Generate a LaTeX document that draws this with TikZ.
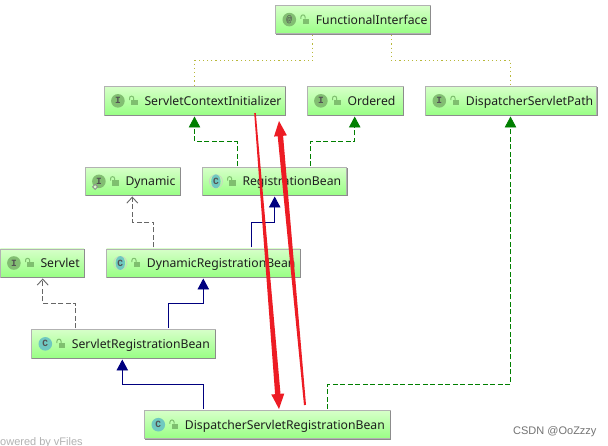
\documentclass[tikz,border=0pt]{standalone}
\usepackage{fontspec}
\setmainfont{Noto Sans}
\newfontfamily\wmfont{Liberation Sans}
\newfontfamily\icofont{Liberation Mono}
\usetikzlibrary{arrows.meta,calc}
\definecolor{dotc}{HTML}{B8B83A}
\definecolor{implc}{HTML}{007F00}
\definecolor{extc}{HTML}{00007F}
\definecolor{depc}{HTML}{666666}
\definecolor{redc}{HTML}{ED1C24}
\definecolor{icoI}{HTML}{82BE72}
\definecolor{icoC}{HTML}{6FC8C0}
\definecolor{haloC}{HTML}{C8D8C0}
\definecolor{lockc}{HTML}{7FBF6F}
\definecolor{boxtop}{HTML}{D6FFC8}
\definecolor{boxbot}{HTML}{99FF85}
\tikzset{
  box/.style={draw=black!30,line width=0.9pt,top color=boxtop,bottom color=boxbot,middle color=boxtop!50!boxbot,inner sep=0pt,outer ysep=1.5pt},
  lbl/.style={inner sep=0pt,anchor=base west,font=\fontsize{12.2}{14}\selectfont,text=black!88},
  icotxt/.style={inner sep=0pt,font=\icofont\bfseries\fontsize{9.5}{10}\selectfont,text=black!68},
  dotline/.style={draw=dotc,line width=1pt,dash pattern=on 1.2pt off 3pt},
  impl/.style={draw=implc,line width=0.9pt,dash pattern=on 5pt off 2.5pt,-{Triangle[width=11.5pt,length=11pt,fill=implc]}},
  ext/.style={draw=extc,line width=0.9pt,-{Triangle[width=11.5pt,length=11pt,fill=extc]}},
  dep/.style={draw=depc,line width=0.9pt,dash pattern=on 5pt off 2.5pt,-{Straight Barb[width=11pt,length=6pt,line width=0.9pt]}},
}
% name, x0, y0, x1, y1, icon code, letter, label
\newcommand{\icoplainI}[2]{\fill[icoI] ({#1},{#2}) circle (6.8);}
\newcommand{\icoplainC}[2]{\fill[icoC] ({#1},{#2}) circle (6.8);}
\newcommand{\icoabsC}[2]{\draw[haloC,line width=0.8pt] ({#1},{#2}) circle (6.6);\fill[icoC] ({#1},{#2}) ellipse (4.7 and 6.9);}
\newcommand{\icodyn}[2]{\fill[icoI] ({#1},{#2}) circle (6.8);\draw[black!45,line width=0.9pt,fill=boxtop] ({#1-6.3},{#2+5.6}) -- ({#1-3.8},{#2+3.1}) -- ({#1-1.3},{#2+5.6}) -- ({#1-3.8},{#2+8.1}) -- cycle;}
\newcommand{\umlbox}[8]{%
  \node[box,minimum width=#4pt-#2pt,minimum height=#5pt-#3pt] (#1) at ({(#2+#4)/2},{(#3+#5)/2}) {};
  \draw[black!45,line width=0.9pt] (#2+0.5,#5+0.6) -- (#4+0.6,#5+0.6) -- (#4+0.6,#3+0.5);
  #6{#2+13.6}{(#3+#5)/2}
  \node[icotxt] (#1-i) at (#2+13.6,{(#3+#5)/2}) {#7};
  \fill[lockc] (#2+26.8,{(#3+#5)/2-1}) rectangle (#2+33.2,{(#3+#5)/2+4.2});
  \draw[lockc,line width=1pt] (#2+25.2,{(#3+#5)/2-0.8}) -- (#2+25.2,{(#3+#5)/2-2.6}) .. controls (#2+25.2,{(#3+#5)/2-5.4}) and (#2+29.4,{(#3+#5)/2-5.4}) .. (#2+29.4,{(#3+#5)/2-2.6}) -- (#2+29.4,{(#3+#5)/2-1});
  \node[lbl] (#1-t) at (#2+40,{(#3+#5)/2+4.5}) {#8};
}
\begin{document}
\begin{tikzpicture}[x=1pt,y=-1pt]
\useasboundingbox (0,0) rectangle (608,446);
\fill[white] (0,0) rectangle (608,446);
\umlbox{func}{275.7}{5.7}{430}{33.5}{\icoplainI}{@}{FunctionalInterface}
\umlbox{sci}{104.3}{86.7}{285}{115}{\icoplainI}{I}{ServletContextInitializer}
\umlbox{ord}{307.3}{86.7}{403}{115}{\icoplainI}{I}{Ordered}
\umlbox{dsp}{425.7}{86.7}{596.7}{115}{\icoplainI}{I}{DispatcherServletPath}
\umlbox{dyn}{85.3}{167.7}{180}{195}{\icodyn}{I}{Dynamic}
\umlbox{reg}{202.3}{167.7}{346.7}{195}{\icoabsC}{C}{RegistrationBean}
\umlbox{srv}{0.3}{249}{84}{277}{\icoplainI}{I}{Servlet}
\umlbox{drb}{106.7}{249}{300}{277}{\icoabsC}{C}{DynamicRegistrationBean}
\umlbox{srb}{31.7}{329.7}{215}{358}{\icoplainC}{C}{ServletRegistrationBean}
\umlbox{dsrb}{144.7}{410.7}{390}{438.7}{\icoplainC}{C}{DispatcherServletRegistrationBean}

\coordinate (b1) at (194.5,60.5);
\coordinate (b2) at (510.5,60.5);
\coordinate (b3) at (194.5,141.5);
\coordinate (b4) at (354.7,141.5);
\coordinate (b5) at (510.5,384.3);
\coordinate (b6) at (132.3,222.3);
\coordinate (b7) at (274.7,222.3);
\coordinate (b8) at (42.7,303.3);
\coordinate (b9) at (203.3,303.3);
\coordinate (b10) at (122.3,384.3);

\draw[dotline] ([xshift=37.6pt]func.south west) |- (b1) -- (b1 |- sci.north);
\draw[dotline] ([xshift=116pt]func.south west) |- (b2) -- (b2 |- dsp.north);
\draw[impl] ([xshift=35.2pt]reg.north west) |- (b3) -- (b3 |- sci.south);
\draw[impl] ([xshift=108.7pt]reg.north west) |- (b4) -- (b4 |- ord.south);
\draw[impl] ([xshift=183.6pt]dsrb.north west) |- (b5) -- (b5 |- dsp.south);
\draw[dep] ([xshift=47.6pt]drb.north west) |- (b6) -- (b6 |- dyn.south);
\draw[ext] ([xshift=145.6pt]drb.north west) |- (b7) -- (b7 |- reg.south);
\draw[dep] ([xshift=44.6pt]srb.north west) |- (b8) -- (b8 |- srv.south);
\draw[ext] ([xshift=137.6pt]srb.north west) |- (b9) -- (b9 |- drb.south);
\draw[ext] ([xshift=59.6pt]dsrb.north west) |- (b10) -- (b10 |- srb.south);

% hand-drawn red tapered arrows
\fill[redc] (279,121) -- (286.9,135.4) -- (283.1,135.8) -- (306,404.9) -- (304,405.1) -- (277.7,136.2) -- (274,136.6) -- cycle;
\fill[redc] (279,409) -- (284.3,393.5) -- (280.5,393.8) -- (255.8,113) -- (254.2,113.1) -- (275.1,394.2) -- (271.3,394.5) -- cycle;

\node[inner sep=0pt,anchor=base west,font=\wmfont\fontsize{11}{12}\selectfont,text=black!55] (wm) at (513,434) {CSDN @OoZzzy};
\node[inner sep=0pt,anchor=base west,font=\wmfont\fontsize{11}{12}\selectfont,text=black!30] (pw) at (0,445) {owered by vFiles};
\end{tikzpicture}
\end{document}
